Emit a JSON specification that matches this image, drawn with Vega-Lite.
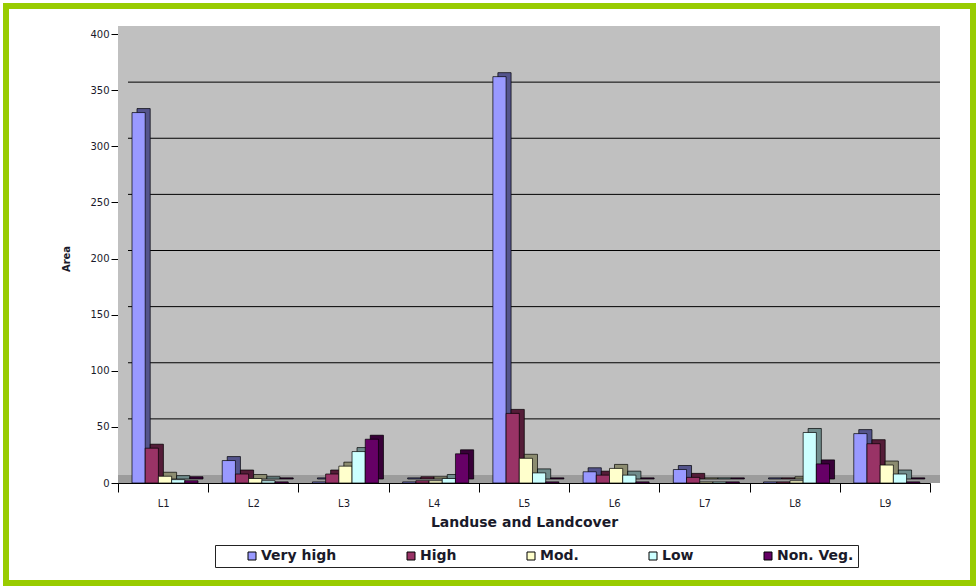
{
  "$schema": "https://vega.github.io/schema/vega-lite/v6.json",
  "width": 967,
  "height": 577,
  "autosize": {"type": "none"},
  "padding": {"left": 6, "top": 6, "right": 6, "bottom": 5},
  "background": "white",
  "config": {
    "font": "DejaVu Sans",
    "view": {"stroke": "#99cc00", "strokeWidth": 6, "fill": "white"}
  },
  "datasets": {
    "areas": [
      {"cat": "L1", "cls": "Very high", "area": 330},
      {"cat": "L1", "cls": "High", "area": 31},
      {"cat": "L1", "cls": "Mod.", "area": 6},
      {"cat": "L1", "cls": "Low", "area": 3},
      {"cat": "L1", "cls": "Non. Veg.", "area": 2},
      {"cat": "L2", "cls": "Very high", "area": 20},
      {"cat": "L2", "cls": "High", "area": 8},
      {"cat": "L2", "cls": "Mod.", "area": 4},
      {"cat": "L2", "cls": "Low", "area": 2},
      {"cat": "L2", "cls": "Non. Veg.", "area": 1},
      {"cat": "L3", "cls": "Very high", "area": 1},
      {"cat": "L3", "cls": "High", "area": 8},
      {"cat": "L3", "cls": "Mod.", "area": 15},
      {"cat": "L3", "cls": "Low", "area": 28},
      {"cat": "L3", "cls": "Non. Veg.", "area": 39},
      {"cat": "L4", "cls": "Very high", "area": 1},
      {"cat": "L4", "cls": "High", "area": 2},
      {"cat": "L4", "cls": "Mod.", "area": 2},
      {"cat": "L4", "cls": "Low", "area": 4},
      {"cat": "L4", "cls": "Non. Veg.", "area": 26},
      {"cat": "L5", "cls": "Very high", "area": 362},
      {"cat": "L5", "cls": "High", "area": 62},
      {"cat": "L5", "cls": "Mod.", "area": 22},
      {"cat": "L5", "cls": "Low", "area": 9},
      {"cat": "L5", "cls": "Non. Veg.", "area": 1},
      {"cat": "L6", "cls": "Very high", "area": 10},
      {"cat": "L6", "cls": "High", "area": 7},
      {"cat": "L6", "cls": "Mod.", "area": 13},
      {"cat": "L6", "cls": "Low", "area": 7},
      {"cat": "L6", "cls": "Non. Veg.", "area": 1},
      {"cat": "L7", "cls": "Very high", "area": 12},
      {"cat": "L7", "cls": "High", "area": 5},
      {"cat": "L7", "cls": "Mod.", "area": 1},
      {"cat": "L7", "cls": "Low", "area": 1},
      {"cat": "L7", "cls": "Non. Veg.", "area": 1},
      {"cat": "L8", "cls": "Very high", "area": 1},
      {"cat": "L8", "cls": "High", "area": 1},
      {"cat": "L8", "cls": "Mod.", "area": 2},
      {"cat": "L8", "cls": "Low", "area": 45},
      {"cat": "L8", "cls": "Non. Veg.", "area": 17},
      {"cat": "L9", "cls": "Very high", "area": 44},
      {"cat": "L9", "cls": "High", "area": 35},
      {"cat": "L9", "cls": "Mod.", "area": 16},
      {"cat": "L9", "cls": "Low", "area": 8},
      {"cat": "L9", "cls": "Non. Veg.", "area": 1}
    ],
    "gridlines": [
      {"v": 50}, {"v": 100}, {"v": 150}, {"v": 200},
      {"v": 250}, {"v": 300}, {"v": 350}
    ],
    "walls": [{"part": "plot", "lo": 0, "hi": 1, "base": 0, "top": 400}]
  },
  "resolve": {"scale": {"x": "independent"}, "axis": {"x": "independent"}},
  "layer": [
    {
      "data": {"name": "walls"},
      "layer": [
        {
          "mark": {"type": "rect", "fill": "#c0c0c0", "x2Offset": 10, "y2Offset": -8},
          "encoding": {
            "x": {"field": "lo", "type": "quantitative", "scale": {"domain": [0, 1], "range": [112, 924]}, "axis": null},
            "x2": {"field": "hi"},
            "y": {"field": "base", "type": "quantitative", "title": "Area"},
            "y2": {"field": "top"}
          }
        },
        {
          "mark": {"type": "rect", "fill": "#9c9c9c", "x2Offset": 10, "y2Offset": -8},
          "encoding": {
            "x": {"field": "lo", "type": "quantitative"},
            "x2": {"field": "hi"},
            "y": {"field": "base", "type": "quantitative", "title": "Area"},
            "y2": {"field": "base"}
          }
        },
        {
          "data": {"name": "gridlines"},
          "mark": {"type": "rule", "color": "black", "strokeWidth": 1, "xOffset": 10, "x2Offset": 10, "yOffset": -8},
          "encoding": {
            "x": {"datum": 0, "type": "quantitative"},
            "x2": {"datum": 1},
            "y": {"field": "v", "type": "quantitative", "title": "Area"}
          }
        }
      ]
    },
    {
      "data": {"name": "areas"},
      "encoding": {
        "x": {
          "field": "cat",
          "type": "nominal",
          "title": "Landuse and Landcover",
          "scale": {"range": [112, 924], "paddingInner": 0, "paddingOuter": 0},
          "axis": {
            "orient": "bottom",
            "offset": -100,
            "labelAngle": 0,
            "tickBand": "extent",
            "tickSize": 9,
            "tickColor": "black",
            "domainColor": "black",
            "labelFontSize": 10,
            "labelColor": "#1a1a2a",
            "labelPadding": 6,
            "titleFontSize": 14,
            "titleFontWeight": "bold",
            "titleColor": "#1a1a2a",
            "titlePadding": 7
          }
        },
        "y": {
          "field": "area",
          "type": "quantitative",
          "title": "Area",
          "scale": {"domain": [0, 400], "range": [477, 28]},
          "axis": {
            "offset": -112,
            "values": [0, 50, 100, 150, 200, 250, 300, 350, 400],
            "grid": false,
            "tickSize": 7,
            "tickColor": "black",
            "domainColor": "black",
            "labelFontSize": 10,
            "labelColor": "#1a1a2a",
            "labelPadding": 2,
            "titleFontSize": 10,
            "titleFontWeight": "bold",
            "titleColor": "#1a1a2a",
            "titlePadding": 18
          }
        },
        "color": {
          "field": "cls",
          "type": "nominal",
          "scale": {
            "domain": ["Very high", "High", "Mod.", "Low", "Non. Veg."],
            "range": ["#9999ff", "#993366", "#ffffcc", "#ccffff", "#660066"]
          },
          "legend": {
            "orient": "none",
            "legendX": 209,
            "legendY": 539,
            "direction": "horizontal",
            "columns": 5,
            "title": " ",
            "titleOrient": "left",
            "titlePadding": 26,
            "titleFontSize": 14,
            "symbolType": "square",
            "symbolSize": 64,
            "symbolStrokeColor": "black",
            "symbolStrokeWidth": 1,
            "symbolOpacity": 1,
            "labelFontSize": 14,
            "labelFontWeight": "bold",
            "labelColor": "#1a1a2a",
            "labelOffset": 2,
            "columnPadding": 67,
            "padding": 4,
            "strokeColor": "#222222",
            "fillColor": "white"
          }
        }
      },
      "resolve": {"scale": {"xOffset": "independent"}},
      "layer": [
        {
          "mark": {"type": "bar", "yOffset": -4, "y2Offset": -4, "stroke": "black", "strokeWidth": 0.7},
          "encoding": {
            "xOffset": {
              "field": "cls",
              "type": "nominal",
              "sort": ["Very high", "High", "Mod.", "Low", "Non. Veg."],
              "scale": {"range": [19, 85], "paddingInner": 0, "paddingOuter": 0}
            }
          }
        },
        {
          "mark": {"type": "bar", "yOffset": -4, "y2Offset": -4, "fillOpacity": 0.45},
          "encoding": {
            "color": {"value": "black"},
            "xOffset": {
              "field": "cls",
              "type": "nominal",
              "sort": ["Very high", "High", "Mod.", "Low", "Non. Veg."],
              "scale": {"range": [19, 85], "paddingInner": 0, "paddingOuter": 0}
            }
          }
        },
        {
          "mark": {"type": "bar", "stroke": "black", "strokeWidth": 0.7},
          "encoding": {
            "xOffset": {
              "field": "cls",
              "type": "nominal",
              "sort": ["Very high", "High", "Mod.", "Low", "Non. Veg."],
              "scale": {"range": [14, 80], "paddingInner": 0, "paddingOuter": 0}
            }
          }
        }
      ]
    }
  ]
}
